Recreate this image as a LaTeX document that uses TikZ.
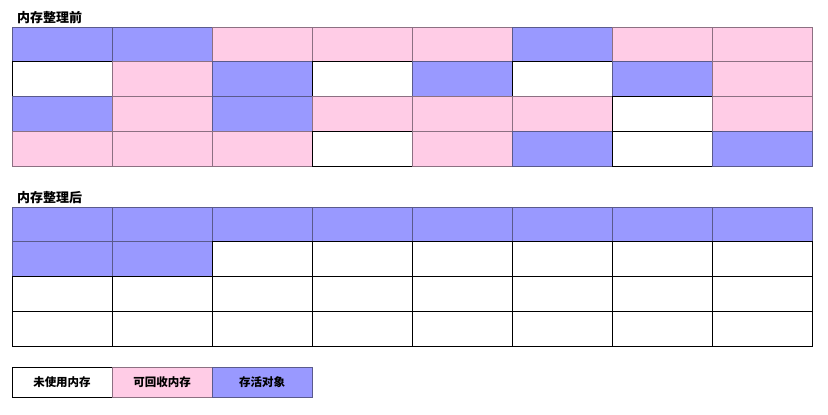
\documentclass[tikz,border=0pt]{standalone}
\usepackage{fontspec}
\newfontfamily\cjk{Noto Sans CJK SC}
\usepackage{tikz}
\usetikzlibrary{positioning}
\definecolor{live}{HTML}{9999FF}
\definecolor{liveline}{HTML}{5A5A8C}
\definecolor{dead}{HTML}{FFCCE6}
\definecolor{deadline}{HTML}{8C7082}

\begin{document}
\begin{tikzpicture}[x=1pt,y=-1pt, cell/.style={anchor=north west,minimum width=100pt,minimum height=34.8pt,inner sep=0pt,outer sep=0pt,line width=0.9pt}, W/.style={cell,fill=white,draw=black}, P/.style={cell,fill=dead,draw=deadline}, B/.style={cell,fill=live,draw=liveline}, title/.style={font=\cjk\bfseries\fontsize{13}{15}\selectfont,anchor=base west,inner sep=0pt}, key/.style={font=\cjk\bfseries\fontsize{11.5}{13}\selectfont,minimum height=30pt}]
\useasboundingbox (0,0) rectangle (828,415);
% before compaction
\node[title] (before) at (17,22.5) {内存整理前};
\foreach \r/\row in {1/{B,B,P,P,P,B,P,P},2/{W,P,B,W,B,W,B,P},3/{B,P,B,P,P,P,W,P},4/{P,P,P,W,P,B,W,B}}
  \foreach \k [count=\c] in \row
    \node[\k] (a-\r-\c) at ({12+100*(\c-1)},{27+34.8*(\r-1)}) {};
% after compaction
\node[title] (after) at (17,202.5) {内存整理后};
\foreach \r/\row in {1/{B,B,B,B,B,B,B,B},2/{B,B,W,W,W,W,W,W},3/{W,W,W,W,W,W,W,W},4/{W,W,W,W,W,W,W,W}}
  \foreach \k [count=\c] in \row
    \node[\k] (b-\r-\c) at ({12+100*(\c-1)},{207+34.8*(\r-1)}) {};
% legend
\node[W,key] (free) at (12,367) {未使用内存};
\node[P,key,right=0pt of free] (garbage) {可回收内存};
\node[B,key,right=0pt of garbage] (alive) {存活对象};
\end{tikzpicture}
\end{document}
